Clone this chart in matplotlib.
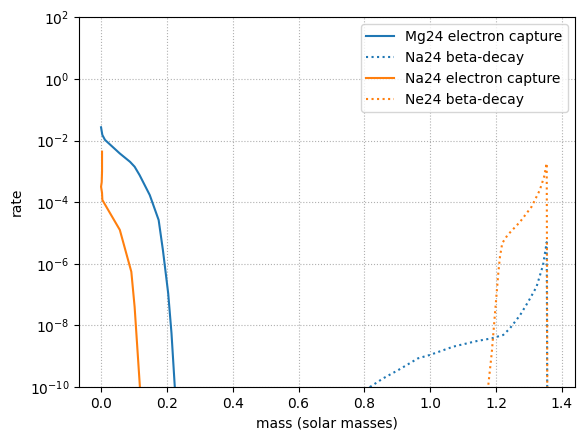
import numpy as np
import matplotlib
matplotlib.use("Agg")
import matplotlib.pyplot as plt

# Mg24 electron capture (blue solid)
mg24_ec_mass = [0.0, 0.002, 0.004, 0.012, 0.057, 0.088, 0.102, 0.117, 0.148, 0.175,
                0.188, 0.204, 0.214, 0.224, 0.228]
mg24_ec_log = [-1.57, -1.70, -1.82, -1.98, -2.42, -2.69, -2.85, -3.12, -3.77, -4.58,
               -5.56, -6.96, -8.25, -9.99, -11.0]

# Na24 beta-decay (blue dotted)
na24_bd_mass = [0.78, 0.817, 0.857, 0.903, 0.963, 0.999, 1.07, 1.141, 1.187, 1.222,
                1.242, 1.273, 1.298, 1.323, 1.343, 1.354, 1.355, 1.356]
na24_bd_log = [-10.6, -10.0, -9.72, -9.45, -9.07, -8.96, -8.69, -8.51, -8.42, -8.31,
               -8.10, -7.67, -7.23, -6.75, -6.04, -5.30, -8.0, -12.0]

# Na24 electron capture (orange solid)
na24_ec_mass = [0.003, 0.003, 0.002, 0.0, 0.003, 0.004, 0.016, 0.057, 0.092, 0.102,
                0.118, 0.121]
na24_ec_log = [-2.36, -3.0, -3.35, -3.5, -3.7, -3.93, -4.15, -4.9, -6.26, -7.4,
               -9.99, -11.0]

# Ne24 beta-decay (orange dotted)
ne24_bd_mass = [1.172, 1.176, 1.187, 1.197, 1.207, 1.212, 1.219, 1.235, 1.273, 1.308,
                1.333, 1.346, 1.354, 1.355, 1.356]
ne24_bd_log = [-11.0, -10.0, -8.9, -7.6, -6.3, -5.77, -5.33, -5.07, -4.64, -4.15,
               -3.61, -3.18, -2.74, -6.0, -12.0]

fig = plt.figure(figsize=(5.84, 4.40), dpi=100)
ax = fig.add_subplot(111)
fig.subplots_adjust(left=79/584, right=575/584, top=1-17.3/440, bottom=1-387/440)

ax.semilogy(mg24_ec_mass, 10.0**np.array(mg24_ec_log), color="C0", ls="-",
            label="Mg24 electron capture")
ax.semilogy(na24_bd_mass, 10.0**np.array(na24_bd_log), color="C0", ls=":",
            label="Na24 beta-decay")
ax.semilogy(na24_ec_mass, 10.0**np.array(na24_ec_log), color="C1", ls="-",
            label="Na24 electron capture")
ax.semilogy(ne24_bd_mass, 10.0**np.array(ne24_bd_log), color="C1", ls=":",
            label="Ne24 beta-decay")

ax.set_xlim(-0.067, 1.44)
ax.set_ylim(1e-10, 1e2)
ax.set_xlabel("mass (solar masses)")
ax.set_ylabel("rate")
ax.grid(True, ls=":")
ax.legend(loc="upper right")

fig.savefig("out.png", dpi=100)
